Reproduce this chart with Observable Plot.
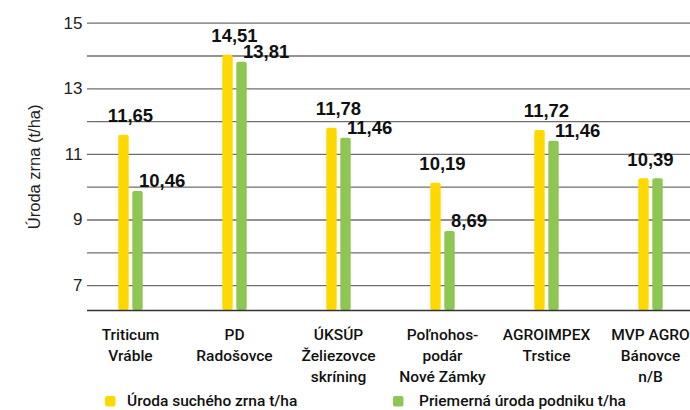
<!DOCTYPE html>
<html>
<head>
<meta charset="utf-8">
<script src="https://cdn.jsdelivr.net/npm/d3@7"></script>
<script src="https://cdn.jsdelivr.net/npm/@observablehq/plot@0.6"></script>
<style>
  html, body { margin: 0; padding: 0; background: #fff; overflow: hidden; width: 690px; height: 410px; }
  #chart svg, #legend svg { display: block; overflow: hidden; }
</style>
</head>
<body>
<div id="chart"></div>
<div id="legend"></div>
<script>
// ---- data ----
const categories = [
  "Triticum\nVráble",
  "PD\nRadošovce",
  "ÚKSÚP\nŽeliezovce\nskríning",
  "Poľnohos-\npodár\nNové Zámky",
  "AGROIMPEX\nTrstice",
  "MVP AGRO\nBánovce\nn/B"
];
const seriesNames = ["Úroda suchého zrna t/ha", "Priemerná úroda podniku t/ha"];
const dryYield = [11.58, 14.02, 11.80, 10.12, 11.73, 10.26];   // bar heights as drawn
const avgYield = [9.87, 13.81, 11.49, 8.65, 11.40, 10.26];
const dryLabels = ["11,65", "14,51", "11,78", "10,19", "11,72", "10,39"];
const avgLabels = ["10,46", "13,81", "11,46", "8,69", "11,46", ""];
const yTicks = [7, 9, 11, 13, 15];
const yGrid = [7, 8, 9, 10, 11, 12, 13, 14, 15];
const yDomain = [6.24, 15];
const yTitle = "Úroda zrna (t/ha)";
const colors = ["#FFD800", "#8DC652"];

// ---- build ----
const rows = categories.map((c, i) => ({
  cat: c, dry: dryYield[i], avg: avgYield[i], dl: dryLabels[i], al: avgLabels[i]
}));

const W = 690, H = 390;
const step = 104.6, firstCenter = 129;
const x0 = firstCenter - step / 2;
const font = "'Liberation Sans', Arial, sans-serif";
const labelFont = "Roboto, 'Liberation Sans', Arial, sans-serif";

const chart = Plot.plot({
  width: W,
  height: H,
  marginLeft: 87,
  marginRight: 0,
  marginTop: 22.7,
  marginBottom: H - 310,
  style: { fontFamily: font, background: "#fff", color: "#111" },
  x: { type: "band", domain: categories, range: [x0, x0 + step * categories.length], padding: 0 },
  y: { domain: yDomain, range: [310, 22.7] },
  marks: [
    Plot.ruleY(yGrid, { stroke: "#6e6e6e", strokeWidth: 1.3 }),
    Plot.barY(rows, {
      x: "cat", y1: yDomain[0], y2: "dry", fill: colors[0],
      insetLeft: step / 2 - 12, insetRight: step / 2 + 1, rx: 2
    }),
    Plot.barY(rows, {
      x: "cat", y1: yDomain[0], y2: "avg", fill: colors[1],
      insetLeft: step / 2 + 2, insetRight: step / 2 - 13, rx: 2
    }),
    Plot.ruleY([yDomain[0]], { stroke: "#333", strokeWidth: 1.6 }),
    Plot.text(rows, {
      x: "cat", y: "dry", text: "dl", dy: -19,
      fontSize: 18.5, fontWeight: "bold", fill: "#111"
    }),
    Plot.text(rows, {
      x: "cat", y: "avg", text: "al", dx: 8.5, dy: -10, textAnchor: "start",
      fontSize: 18.5, fontWeight: "bold", fill: "#111"
    }),
    Plot.axisY(yTicks, {
      tickSize: 0, tickPadding: 5, fontSize: 17, fill: "#222", label: null
    }),
    Plot.axisX({
      tickSize: 0, tickPadding: 14.3, fontSize: 15.5, lineHeight: 1.36,
      fontFamily: labelFont, fontWeight: 500, fill: "#111", label: null
    }),
    Plot.text([yTitle], {
      frameAnchor: "left", rotate: -90, dx: -53, textAnchor: "middle",
      fontSize: 16.5, fill: "#222"
    })
  ]
});
document.getElementById("chart").appendChild(chart);

// ---- legend (below the SVG) ----
const legendPos = [{ sq: 105, tx: 127 }, { sq: 393, tx: 419 }];
const lg = d3.select("#legend").append("svg").attr("width", W).attr("height", 410 - H);
seriesNames.forEach((name, i) => {
  lg.append("rect")
    .attr("x", legendPos[i].sq).attr("y", 6).attr("width", 10.5).attr("height", 10.5)
    .attr("rx", 2).attr("fill", colors[i]);
  lg.append("text")
    .attr("x", legendPos[i].tx).attr("y", 16)
    .attr("font-family", labelFont).attr("font-weight", 500)
    .attr("font-size", 15.5).attr("fill", "#111")
    .text(name);
});
</script>
</body>
</html>
